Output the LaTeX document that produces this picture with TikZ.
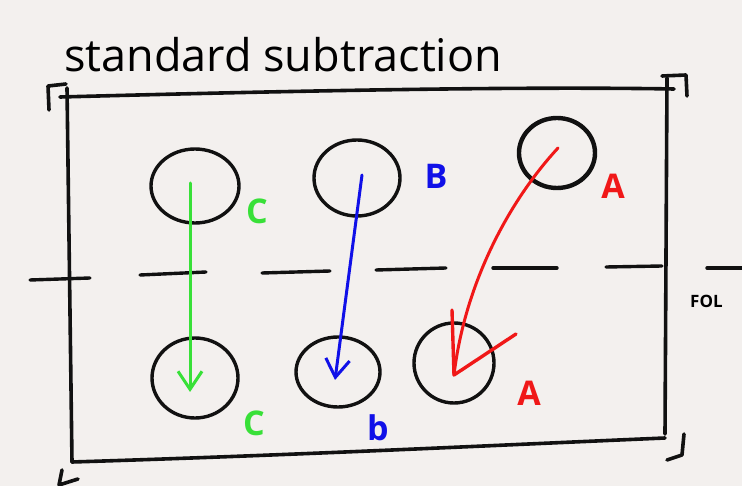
\documentclass[tikz,border=0pt]{standalone}
\usepackage{fontspec}
\setmainfont{Open Sans}
\usetikzlibrary{shapes.geometric,arrows.meta,calc}
\definecolor{paper}{HTML}{F3F0EE}
\definecolor{ink}{HTML}{111111}
\definecolor{penred}{HTML}{F01818}
\definecolor{pengreen}{HTML}{38E038}
\definecolor{penblue}{HTML}{1010E8}
\tikzset{
  frame/.style={ink,line width=3.6pt,line cap=round,line join=round},
  ring/.style={ellipse,draw=ink,line width=3.4pt,inner sep=0pt},
  pen/.style={line width=3pt,line cap=round,line join=round},
  barb/.style={-{Straight Barb[length=18pt,width=24pt,line width=3pt]}},
  tag/.style={font=\fontsize{34}{40}\selectfont\bfseries}
}
\begin{document}
\begin{tikzpicture}[x=1pt,y=-1pt]
  \fill[paper] (0,0) rectangle (742,486);
  \useasboundingbox (0,0) rectangle (742,486);

  % title
  \node[anchor=base west,inner sep=0pt,font=\fontsize{45}{50}\selectfont] (title) at (64,72) {standard subtraction};

  % frame with corner brackets
  \draw[frame] (60,97) .. controls (250,92) and (500,86) .. (674,89);
  \draw[frame] (67,88) -- (72,462);
  \draw[frame] (667,78) -- (665,434);
  \draw[frame] (72,462) .. controls (300,455) and (500,445) .. (665,438);
  \draw[frame] (49,110) -- (48,86) -- (66,84);
  \draw[frame] (662,76) -- (686,75) -- (687,96);
  \draw[frame] (62,470) -- (59,485) -- (78,479);
  \draw[frame] (684,434) -- (682,455) -- (667,460);

  % fold line
  \draw[frame,line width=3.4pt] (30,280) -- (90,278);
  \draw[frame,line width=3.4pt] (140,275) -- (206,272);
  \draw[frame,line width=3.4pt] (262,273) -- (330,271);
  \draw[frame,line width=3.4pt] (376,270) -- (446,268);
  \draw[frame,line width=3.4pt] (493,268) -- (557,268);
  \draw[frame,line width=3.4pt] (606,267) -- (662,266);
  \draw[frame,line width=3.4pt] (707,268) -- (742,268);
  \node[anchor=west,inner sep=0pt,font=\fontsize{17}{18}\selectfont\bfseries] (fold) at (690,301) {FOL};

  % top row
  \node[ring,minimum width=88pt,minimum height=74pt] (ct) at (195,186) {};
  \node[ring,minimum width=86pt,minimum height=76pt] (bt) at (357,178) {};
  \node[ring,minimum width=76pt,minimum height=70pt,line width=4.4pt] (at) at (557,153) {};
  % bottom row
  \node[ring,minimum width=86pt,minimum height=80pt] (cb) at (195,378) {};
  \node[ring,minimum width=84pt,minimum height=70pt] (bb) at (338,372) {};
  \node[ring,minimum width=80pt,minimum height=80pt] (ab) at (454,363) {};

  % labels
  \node[tag,pengreen] (lct) at (257,211) {C};
  \node[tag,pengreen] (lcb) at (254,423) {C};
  \node[tag,penblue] (lbt) at (436,176) {B};
  \node[tag,penblue] (lbb) at (378,428) {b};
  \node[tag,penred] (lat) at (613,186) {A};
  \node[tag,penred] (lab) at (529,393) {A};

  % moves
  \coordinate (gs) at ($(ct.center)+(-5,-3)$);
  \coordinate (ge) at ($(cb.center)+(-5,14)$);
  \draw[pen,pengreen,barb] (gs) -- (ge);
  \coordinate (bs) at ($(bt.center)+(5,-3)$);
  \coordinate (be) at ($(bb.center)+(-3,8)$);
  \draw[pen,penblue,barb] (bs) -- (be);
  \coordinate (rs) at ($(at.center)+(1,-5)$);
  \coordinate (re) at ($(ab.center)+(0,12)$);
  \draw[pen,penred] (rs) .. controls (510,200) and (465,282) .. (re);
  \draw[pen,penred,line width=3.4pt] (452,310) -- (re) -- (516,334);
\end{tikzpicture}
\end{document}
